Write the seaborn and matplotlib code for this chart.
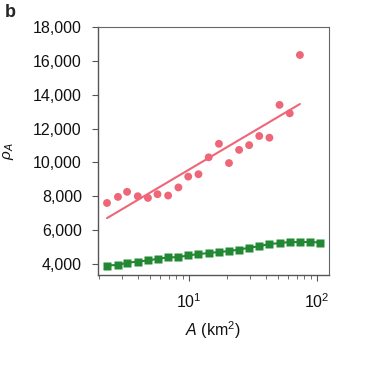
import numpy as np
import pandas as pd
import matplotlib
matplotlib.use("Agg")
import matplotlib.pyplot as plt
import seaborn as sns

# areas (km^2) for each bin
area = [2.3, 2.8, 3.3, 4.0, 4.8, 5.7, 6.9, 8.3, 9.9, 11.9, 14.3,
        17.2, 20.6, 24.7, 29.6, 35.5, 42.6, 51.1, 61.4, 73.7, 88.4, 106.0]
# red points (first 20 bins)
rho_red = [7600, 7960, 8260, 8000, 7900, 8120, 8040, 8520, 9160, 9300,
           10300, 11100, 9960, 10740, 11020, 11560, 11460, 13400, 12900, 16350]
# green squares (all bins)
rho_green = [3900, 3940, 4060, 4140, 4200, 4300, 4380, 4400, 4500, 4580, 4640,
             4700, 4760, 4840, 4960, 5040, 5180, 5220, 5300, 5280, 5300, 5260]

RED = "#EE6677"
GREEN = "#228833"

sns.set_style("ticks")
plt.rcParams["font.family"] = ["Liberation Sans", "DejaVu Sans"]
plt.rcParams["mathtext.fontset"] = "custom"
plt.rcParams["mathtext.it"] = "Liberation Sans:italic"
plt.rcParams["mathtext.rm"] = "Liberation Sans"

red_df = pd.DataFrame({"A": area[:len(rho_red)], "rho": rho_red})
green_df = pd.DataFrame({"A": area, "rho": rho_green})

fig = plt.figure(figsize=(3.65, 3.66), dpi=100)
ax = fig.add_axes([0.268, 0.249, 0.633, 0.677])

# fit in log-x for the red trend line
k, b = np.polyfit(np.log10(red_df["A"]), red_df["rho"], 1)
xs = np.array([red_df["A"].min(), red_df["A"].max()])
ax.plot(xs, k * np.log10(xs) + b, color=RED, lw=1.5, zorder=2)

sns.scatterplot(data=red_df, x="A", y="rho", ax=ax, color=RED, s=32,
                edgecolor="none", zorder=3)
sns.lineplot(data=green_df, x="A", y="rho", ax=ax, color=GREEN, lw=1.5,
             marker="s", markersize=5.5, markeredgecolor="none", zorder=3)

ax.set_xscale("log")
ax.set_xlim(1.95, 124)
ax.set_ylim(3350, 18000)
ax.set_yticks(range(4000, 18001, 2000))
ax.yaxis.set_major_formatter(matplotlib.ticker.StrMethodFormatter("{x:,.0f}"))

for side in ["top", "right"]:
    ax.spines[side].set_visible(True)
    ax.spines[side].set_color("#666666")
    ax.spines[side].set_linewidth(0.8)
for side in ["left", "bottom"]:
    ax.spines[side].set_color("#555555")
    ax.spines[side].set_linewidth(1.0)

ax.tick_params(axis="both", which="major", labelsize=11.5, length=4.5,
               color="#555555", labelcolor="#111111", direction="out")
ax.tick_params(axis="y", which="major", pad=7)
ax.tick_params(axis="x", which="major", pad=8)
ax.tick_params(axis="x", which="minor", length=3, color="#555555")

ax.set_xlabel("$A$ (km$^2$)", fontsize=11.5, labelpad=6, color="#111111")
ax.set_ylabel(r"$\rho_A$", fontsize=11, labelpad=12, color="#111111")

fig.text(0.012, 0.965, "b", fontsize=13, fontweight="bold", va="center")

fig.savefig("out.png", dpi=100)
